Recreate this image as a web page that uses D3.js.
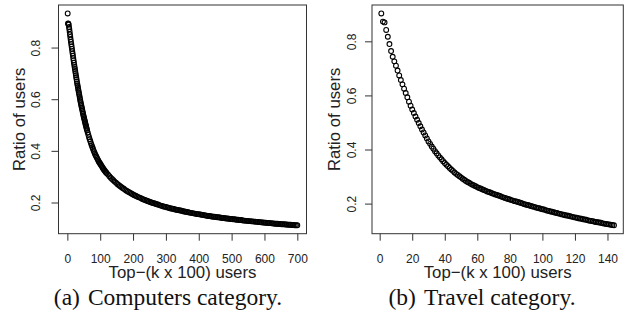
<!DOCTYPE html>
<html>
<head>
<meta charset="utf-8">
<script src="https://cdn.jsdelivr.net/npm/d3@7"></script>
<style>
  body { margin: 0; background: #fff; }
  svg { display: block; }
</style>
</head>
<body>
<svg id="chart" width="632" height="322"></svg>
<script>
// [k, ratio of users] (Computers is thinned where points overlap)
const computersPoints = [
  [1,.932],[2,.893],[3,.892],[4,.889],[5,.880],[6,.871],[7,.861],[8,.851],[9,.841],[10,.831],
  [11,.822],[12,.813],[13,.804],[14,.795],[15,.786],[16,.777],[17,.768],[18,.759],[19,.750],[20,.741],
  [21,.733],[22,.725],[23,.717],[24,.709],[25,.701],[26,.693],[27,.685],[28,.677],[29,.669],[30,.661],
  [31,.654],[32,.647],[33,.640],[34,.633],[35,.626],[36,.619],[37,.612],[38,.605],[39,.598],[40,.591],
  [41,.585],[42,.579],[43,.573],[44,.567],[45,.561],[46,.555],[47,.549],[48,.543],[49,.537],[50,.531],
  [51,.526],[52,.521],[53,.516],[54,.511],[55,.505],[56,.500],[57,.495],[58,.490],[59,.485],[60,.480],
  [62,.471],[64,.462],[66,.453],[68,.445],[70,.437],[72,.429],[74,.422],[76,.415],[78,.408],[80,.401],
  [82,.395],[84,.389],[86,.383],[88,.378],[90,.373],[92,.368],[94,.363],[96,.358],[98,.354],[100,.350],
  [102,.346],[104,.342],[106,.338],[108,.334],[110,.330],[112,.326],[114,.323],[116,.319],[118,.316],[120,.313],
  [124,.308],[128,.302],[132,.296],[136,.291],[140,.286],[144,.281],[148,.277],[152,.272],[156,.268],[160,.264],
  [164,.260],[168,.256],[172,.253],[176,.249],[180,.246],[184,.243],[188,.240],[192,.237],[196,.234],[200,.231],
  [204,.228],[208,.226],[212,.223],[216,.221],[220,.219],[224,.217],[228,.214],[232,.212],[236,.210],[240,.208],
  [244,.206],[248,.204],[252,.202],[256,.200],[260,.198],[264,.197],[268,.195],[272,.193],[276,.192],[280,.190],
  [284,.188],[288,.187],[292,.185],[296,.184],[300,.183],[304,.181],[308,.180],[312,.178],[316,.177],[320,.176],
  [324,.175],[328,.173],[332,.172],[336,.171],[340,.170],[344,.169],[348,.168],[352,.166],[356,.165],[360,.164],
  [364,.163],[368,.162],[372,.161],[376,.160],[380,.159],[384,.158],[388,.157],[392,.156],[396,.155],[400,.155],
  [404,.154],[408,.153],[412,.152],[416,.151],[420,.150],[424,.149],[428,.148],[432,.148],[436,.147],[440,.146],
  [444,.145],[448,.145],[452,.144],[456,.143],[460,.143],[464,.142],[468,.141],[472,.140],[476,.140],[480,.139],
  [484,.138],[488,.138],[492,.137],[496,.136],[500,.136],[504,.135],[508,.135],[512,.134],[516,.133],[520,.133],
  [524,.132],[528,.132],[532,.131],[536,.130],[540,.130],[544,.129],[548,.129],[552,.128],[556,.128],[560,.127],
  [564,.127],[568,.126],[572,.126],[576,.125],[580,.125],[584,.124],[588,.124],[592,.123],[596,.123],[600,.122],
  [604,.122],[608,.121],[612,.121],[616,.120],[620,.120],[624,.119],[628,.119],[632,.118],[636,.118],[640,.118],
  [644,.117],[648,.117],[652,.116],[656,.116],[660,.116],[664,.115],[668,.115],[672,.114],[676,.114],[680,.114],
  [684,.113],[688,.113],[692,.112],[696,.112],[700,.112]
];

const travelPoints = [
  [1,.903],[2,.873],[3,.870],[4,.842],[5,.817],[6,.790],[7,.764],[8,.743],[9,.726],[10,.710],
  [11,.692],[12,.674],[13,.657],[14,.641],[15,.625],[16,.609],[17,.593],[18,.577],[19,.562],[20,.548],
  [21,.535],[22,.522],[23,.510],[24,.498],[25,.486],[26,.474],[27,.463],[28,.452],[29,.441],[30,.430],
  [31,.421],[32,.411],[33,.403],[34,.394],[35,.386],[36,.378],[37,.371],[38,.364],[39,.357],[40,.350],
  [41,.344],[42,.338],[43,.332],[44,.326],[45,.321],[46,.315],[47,.310],[48,.306],[49,.301],[50,.297],
  [51,.292],[52,.288],[53,.284],[54,.280],[55,.277],[56,.273],[57,.270],[58,.267],[59,.264],[60,.261],
  [61,.258],[62,.256],[63,.253],[64,.250],[65,.248],[66,.245],[67,.243],[68,.241],[69,.238],[70,.236],
  [71,.234],[72,.232],[73,.230],[74,.228],[75,.225],[76,.223],[77,.221],[78,.219],[79,.217],[80,.215],
  [81,.213],[82,.211],[83,.209],[84,.208],[85,.206],[86,.204],[87,.202],[88,.200],[89,.198],[90,.196],
  [91,.195],[92,.193],[93,.191],[94,.189],[95,.188],[96,.186],[97,.184],[98,.183],[99,.181],[100,.179],
  [101,.178],[102,.176],[103,.174],[104,.173],[105,.171],[106,.170],[107,.168],[108,.166],[109,.165],[110,.163],
  [111,.162],[112,.160],[113,.159],[114,.157],[115,.156],[116,.155],[117,.153],[118,.152],[119,.150],[120,.149],
  [121,.148],[122,.146],[123,.145],[124,.144],[125,.142],[126,.141],[127,.140],[128,.138],[129,.137],[130,.136],
  [131,.135],[132,.133],[133,.132],[134,.131],[135,.130],[136,.129],[137,.127],[138,.126],[139,.125],[140,.124],
  [141,.123],[142,.122],[143,.121],[144,.120]
];

const computersXTicks = [0, 100, 200, 300, 400, 500, 600, 700];
const travelXTicks = [0, 20, 40, 60, 80, 100, 120, 140];
const yTicks = [0.2, 0.4, 0.6, 0.8];
const xTitle = 'Top\u2212(k x 100) users';
const yTitle = 'Ratio of users';

const SANS = '"Liberation Sans", Arial, Helvetica, sans-serif';
const SERIF = '"Liberation Serif", "Times New Roman", serif';

const panels = [
  {
    points: computersPoints, xTicks: computersXTicks, tag: '(a)', caption: 'Computers category.',
    box: { left: 58.5, right: 306.5, top: 5, bottom: 233.7 },
    labelOffset: 18.5, titleOffset: 34, captionX: 168
  },
  {
    points: travelPoints, xTicks: travelXTicks, tag: '(b)', caption: 'Travel category.',
    box: { left: 372, right: 623.3, top: 5, bottom: 233.7 },
    labelOffset: 16.5, titleOffset: 32, captionX: 482
  }
];

// R's default axis limits: data range widened by 4% on each side
function rLimits(extent) {
  const pad = (extent[1] - extent[0]) * 0.04;
  return [extent[0] - pad, extent[1] + pad];
}

const svg = d3.select('#chart');

panels.forEach(p => {
  const box = p.box;
  const x = d3.scaleLinear()
    .domain(rLimits(d3.extent(p.points, d => d[0])))
    .range([box.left, box.right]);
  const y = d3.scaleLinear()
    .domain(rLimits(d3.extent(p.points, d => d[1])))
    .range([box.bottom, box.top]);

  const g = svg.append('g');

  g.append('g').attr('class', 'points')
    .selectAll('circle')
    .data(p.points)
    .join('circle')
    .attr('cx', d => x(d[0]))
    .attr('cy', d => y(d[1]))
    .attr('r', 2.4)
    .attr('fill', 'none')
    .attr('stroke', '#000')
    .attr('stroke-width', 1.1);

  g.append('rect')
    .attr('x', box.left).attr('y', box.top)
    .attr('width', box.right - box.left).attr('height', box.bottom - box.top)
    .attr('fill', 'none').attr('stroke', '#333').attr('stroke-width', 1);

  const axisX = g.append('g')
    .attr('transform', `translate(0,${box.bottom})`)
    .call(d3.axisBottom(x).tickValues(p.xTicks).tickSize(7).tickPadding(13.8).tickFormat(d3.format('d')));
  axisX.select('.domain').remove();
  axisX.attr('font-family', SANS).attr('font-size', 12).attr('color', '#333');
  axisX.selectAll('text').attr('fill', '#222');

  const axisY = g.append('g')
    .attr('transform', `translate(${box.left},0)`)
    .call(d3.axisLeft(y).tickValues(yTicks).tickSize(7).tickFormat(d3.format('.1f')));
  axisY.select('.domain').remove();
  axisY.attr('font-family', SANS).attr('font-size', 12).attr('color', '#333');
  axisY.selectAll('text')
    .attr('transform', 'rotate(-90)')
    .attr('x', 0).attr('y', -p.labelOffset).attr('dy', 0)
    .attr('text-anchor', 'middle')
    .attr('fill', '#222');

  g.append('text')
    .attr('x', (box.left + box.right) / 2)
    .attr('y', box.bottom + 44.6)
    .attr('text-anchor', 'middle')
    .attr('font-family', SANS).attr('font-size', 16.8).attr('fill', '#222')
    .text(xTitle);

  g.append('text')
    .attr('transform', `translate(${box.left - p.titleOffset},${(box.top + box.bottom) / 2}) rotate(-90)`)
    .attr('text-anchor', 'middle')
    .attr('font-family', SANS).attr('font-size', 16.8).attr('fill', '#222')
    .text(yTitle);

  const cap = g.append('text')
    .attr('x', p.captionX).attr('y', 305)
    .attr('text-anchor', 'middle')
    .attr('font-family', SERIF).attr('font-size', 23.5).attr('fill', '#111');
  cap.append('tspan').text(p.tag);
  cap.append('tspan').attr('dx', 8).text(p.caption);
});
</script>
</body>
</html>
